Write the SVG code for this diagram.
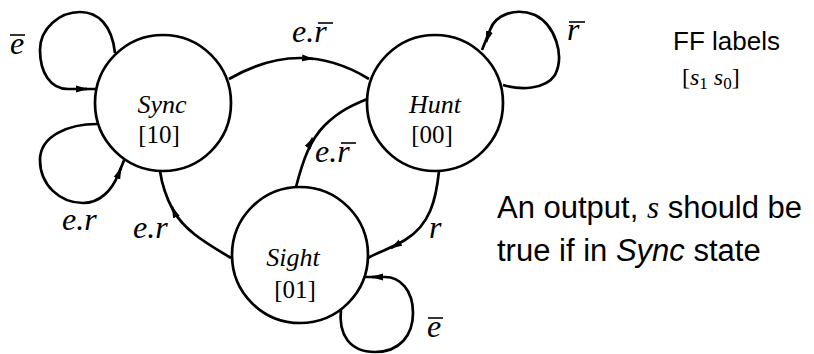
<svg xmlns="http://www.w3.org/2000/svg" width="814" height="354" viewBox="0 0 814 354">
<style>
.st{fill:#fff;stroke:#000;stroke-width:2.7}
.cn{fill:none;stroke:#000;stroke-width:2.7}
.ah{fill:none;stroke:#000;stroke-width:2.7;marker-end:url(#arr)}
.nm{font-family:"Liberation Serif",serif;font-style:italic;font-size:26px;text-anchor:middle}
.cd{font-family:"Liberation Serif",serif;font-size:25px;text-anchor:middle}
.lb{font-family:"Liberation Serif",serif;font-style:italic;font-size:32px}
.bar{stroke:#000;stroke-width:1.6}
.sn{font-family:"Liberation Sans",Arial,sans-serif;font-size:26px}
.nt{font-family:"Liberation Sans",Arial,sans-serif;font-size:31px}
</style>
<defs>
<marker id="arr" markerUnits="userSpaceOnUse" markerWidth="12" markerHeight="8" refX="11" refY="4" orient="auto">
<path d="M0,0.5 L12,4 L0,7.5 z" fill="#000"/>
</marker>
</defs>
<g id="connectors">
<path class="cn" d="M115,53 C112,25 98,12 80,12 C60,12 40,28 40,50 C40,72 50,89 68,89 L97,89"/>
<path class="ah" d="M78,89 L87,89"/>
<path class="cn" d="M97,124 C70,124 40,135 40,160 C40,185 60,203 83,203 C100,203 112,190 118,175 L125,158"/>
<path class="ah" d="M117,178 L121,168"/>
<path class="cn" d="M229,79 C255,64 280,58 300,58 C325,58 348,66 369,79"/>
<path class="ah" d="M303,58 L313,59"/>
<path class="cn" d="M503,85 C520,90 545,90 555,75 C565,55 555,25 535,15 C515,7 495,15 490,30 L482,50"/>
<path class="ah" d="M489,33 L486,42"/>
<path class="cn" d="M296,187 C303,160 310,140 325,125 C340,110 355,104 367,99"/>
<path class="ah" d="M308,147 L313,138"/>
<path class="cn" d="M439,171 C436,200 430,225 405,240 C390,249 378,252 368,258"/>
<path class="ah" d="M400,243 L391,248"/>
<path class="cn" d="M231,258 C210,245 185,232 173,210 C166,197 162,185 160,171"/>
<path class="ah" d="M176,216 L172,207"/>
<path class="cn" d="M341,309 C338,335 350,352 375,352 C400,352 413,335 413,313 C413,290 400,277 385,277 L362,277"/>
<path class="ah" d="M381,277 L372,277"/>
</g>
<g id="edge-labels">
<text class="lb" x="10" y="54">e</text><line class="bar" x1="10" y1="35" x2="25" y2="35"/>
<text class="lb" x="62" y="230">e.r</text>
<text class="lb" x="292" y="42">e.r</text><line class="bar" x1="318" y1="23" x2="333" y2="23"/>
<text class="lb" x="315" y="162">e.r</text><line class="bar" x1="341" y1="143" x2="356" y2="143"/>
<text class="lb" x="567" y="40">r</text><line class="bar" x1="569" y1="22" x2="585" y2="22"/>
<text class="lb" x="429" y="238">r</text>
<text class="lb" x="133" y="238">e.r</text>
<text class="lb" x="427" y="337">e</text><line class="bar" x1="428" y1="318" x2="443" y2="318"/>
</g>
<g id="sync">
<circle class="st" cx="163" cy="103" r="68"/>
<text class="nm" x="162" y="113">Sync</text>
<text class="cd" x="159" y="143">[10]</text>
</g>
<g id="hunt">
<circle class="st" cx="435" cy="103" r="68"/>
<text class="nm" x="435" y="113">Hunt</text>
<text class="cd" x="432" y="143">[00]</text>
</g>
<g id="sight">
<circle class="st" cx="300" cy="255" r="68"/>
<text class="nm" x="293" y="266">Sight</text>
<text class="cd" x="295" y="298">[01]</text>
</g>
<g id="notes">
<text class="sn" x="673" y="50">FF labels</text>
<text font-family="'Liberation Serif',serif" font-size="24" x="682" y="85">[<tspan font-style="italic">s</tspan><tspan font-size="17" dy="4">1</tspan><tspan dy="-4" xml:space="preserve"> </tspan><tspan font-style="italic">s</tspan><tspan font-size="17" dy="4">0</tspan><tspan dy="-4">]</tspan></text>
<text class="nt" x="497" y="218">An output, <tspan font-family="'Liberation Serif',serif" font-style="italic">s</tspan> should be</text>
<text class="nt" x="497" y="261">true if in <tspan font-style="italic">Sync</tspan> state</text>
</g>
</svg>
